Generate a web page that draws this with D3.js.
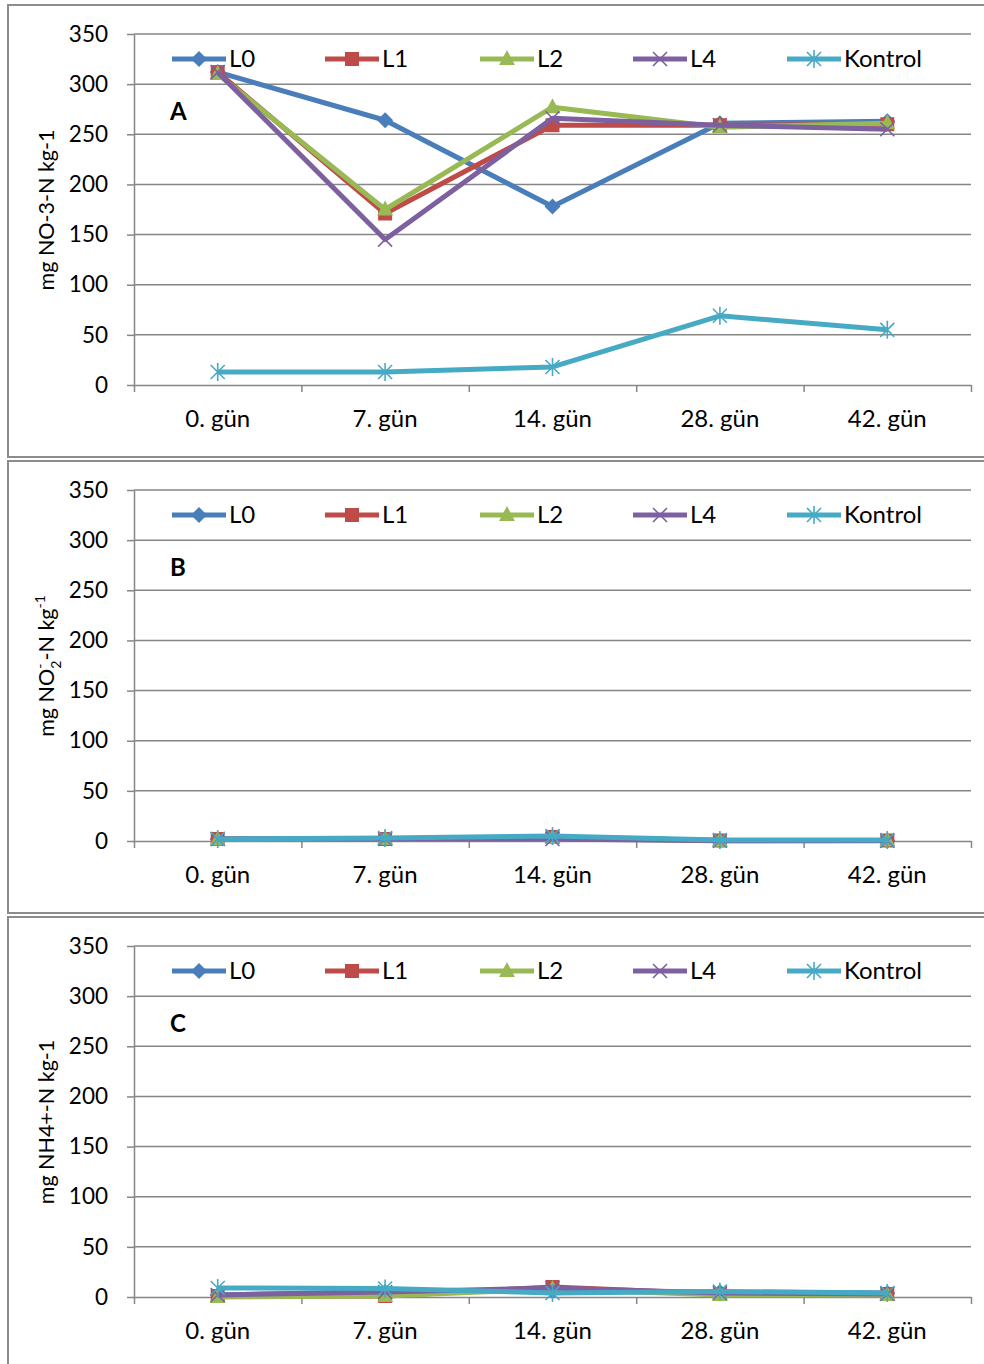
<!DOCTYPE html>
<html lang="tr">
<head>
<meta charset="UTF-8">
<title>Azot formlari</title>
<script src="https://cdn.jsdelivr.net/npm/d3@7"></script>
<style>
    body { margin: 0; background: #fff; }
    svg { display: block; font-family: Lato, "Open Sans", sans-serif; }
</style>
</head>
<body>
<svg id="chart" width="984" height="1364"></svg>
<script>
// categories
var days = ["0. gün", "7. gün", "14. gün", "28. gün", "42. gün"];
var seriesNames = ["L0", "L1", "L2", "L4", "Kontrol"];
var yTicks = [0, 50, 100, 150, 200, 250, 300, 350];

// A: nitrate
var nitrateL0 = [312, 264, 178, 261, 263];
var nitrateL1 = [312, 171, 259, 259, 260];
var nitrateL2 = [310, 175, 277, 257, 261];
var nitrateL4 = [312, 145, 266, 259, 255];
var nitrateKontrol = [13, 13, 18, 69, 55];

// B: nitrite
var nitriteL0 = [2, 2, 4, 0.5, 0.5];
var nitriteL1 = [2, 2, 4, 0.5, 0.5];
var nitriteL2 = [1.5, 2, 3, 0.3, 0.5];
var nitriteL4 = [2, 2, 2, 0.3, 0.3];
var nitriteKontrol = [2, 3, 5, 1, 1];

// C: ammonium
var ammoniumL0 = [2, 5, 6, 5, 4];
var ammoniumL1 = [1, 1, 10, 3, 3];
var ammoniumL2 = [0, 1, 8, 2, 2];
var ammoniumL4 = [2, 5, 9, 4, 3];
var ammoniumKontrol = [9, 8.5, 4, 5.5, 4];

var colors = ["#4a7ebb", "#be4b48", "#98b954", "#7d60a0", "#46aac5"];
var markerTypes = ["diamond", "square", "triangle", "x", "star"];

var svg = d3.select("#chart");

var panelH = 456;
var plot = {left: 134, right: 971, top: 30, height: 351};

var x = d3.scaleBand().domain(days).range([plot.left, plot.right]);
var xb = d3.scaleLinear().domain([0, days.length]).range([plot.left, plot.right]);
var y = d3.scaleLinear().domain([0, 350]).range([plot.top + plot.height, plot.top]);

function drawMarker(g, type, color) {
    if (type == "diamond") {
        g.append("path").attr("d", "M0,-8L8,0L0,8L-8,0Z").attr("fill", color);
    } else if (type == "square") {
        g.append("rect").attr("x", -7).attr("y", -7).attr("width", 14).attr("height", 14).attr("fill", color);
    } else if (type == "triangle") {
        g.append("path").attr("d", "M0,-9L8,6L-8,6Z").attr("fill", color);
    } else if (type == "x") {
        g.append("path").attr("d", "M-7,-7L7,7M-7,7L7,-7").attr("stroke", color).attr("stroke-width", 1.6);
    } else {
        g.append("path").attr("d", "M-7,-7L7,7M-7,7L7,-7M0,-9L0,9")
            .attr("stroke", color).attr("stroke-width", 1.6);
    }
}

function drawPanel(top, data, letter, titleFn) {
    var g = svg.append("g").attr("transform", "translate(0," + top + ")");

    // panel frame
    g.append("rect")
        .attr("x", 8).attr("y", 1)
        .attr("width", 990).attr("height", panelH - 4)
        .attr("fill", "none").attr("stroke", "#8c8c8c").attr("stroke-width", 2);

    // gridlines
    g.append("g").selectAll("line")
        .data(yTicks.filter(function(d) { return d > 0; }))
        .enter().append("line")
        .attr("x1", plot.left).attr("x2", plot.right)
        .attr("y1", function(d) { return y(d); })
        .attr("y2", function(d) { return y(d); })
        .attr("stroke", "#868686").attr("stroke-width", 1.5);

    // y axis
    var yAxis = g.append("g")
        .attr("transform", "translate(" + plot.left + ",0)")
        .call(d3.axisLeft(y).tickValues(yTicks).tickSize(7).tickPadding(19).tickSizeOuter(0));
    yAxis.select(".domain").attr("stroke", "#868686").attr("stroke-width", 1.5);
    yAxis.selectAll(".tick line").attr("stroke", "#868686").attr("stroke-width", 1.5);
    yAxis.selectAll("text").attr("font-size", 22.5).attr("fill", "#000").attr("font-family", "Lato");

    // x axis: ticks at category boundaries
    var xAxis = g.append("g")
        .attr("transform", "translate(0," + y(0) + ")")
        .call(d3.axisBottom(xb).ticks(days.length).tickSize(7).tickFormat("").tickSizeOuter(0));
    xAxis.select(".domain").attr("stroke", "#868686").attr("stroke-width", 1.5);
    xAxis.selectAll(".tick line").attr("stroke", "#868686").attr("stroke-width", 1.5);

    var xLabels = g.append("g")
        .attr("transform", "translate(0," + y(0) + ")")
        .call(d3.axisBottom(x).tickSize(0).tickPadding(25));
    xLabels.select(".domain").remove();
    xLabels.selectAll("text").attr("font-size", 24).attr("fill", "#000").attr("font-family", "Lato");

    // y title
    var title = g.append("text")
        .attr("transform", "translate(54," + (plot.top + 176) + ") rotate(-90)")
        .attr("text-anchor", "middle")
        .attr("font-size", 21.5)
        .attr("font-family", "Lato");
    titleFn(title);

    // lines and markers
    var line = d3.line()
        .x(function(d, i) { return x(days[i]) + x.bandwidth() / 2; })
        .y(function(d) { return y(d); });

    data.forEach(function(vals, k) {
        g.append("path")
            .attr("d", line(vals))
            .attr("fill", "none")
            .attr("stroke", colors[k])
            .attr("stroke-width", 5)
            .attr("stroke-linejoin", "round");
        vals.forEach(function(v, i) {
            var m = g.append("g")
                .attr("transform", "translate(" + (x(days[i]) + x.bandwidth() / 2) + "," + y(v) + ")");
            drawMarker(m, markerTypes[k], colors[k]);
        });
    });

    // legend
    var legX = [172, 325, 480, 633, 787];
    seriesNames.forEach(function(name, k) {
        var lg = g.append("g").attr("transform", "translate(" + legX[k] + "," + (plot.top + 25) + ")");
        lg.append("line").attr("x1", 0).attr("x2", 54)
            .attr("stroke", colors[k]).attr("stroke-width", 5);
        drawMarker(lg.append("g").attr("transform", "translate(27,0)"), markerTypes[k], colors[k]);
        lg.append("text").attr("x", 57).attr("dy", "0.35em")
            .attr("font-size", 24).attr("font-family", "Lato").text(name);
    });

    // panel letter
    g.append("text")
        .attr("x", 170).attr("y", plot.top + 86)
        .attr("font-size", 24).attr("font-weight", "bold")
        .attr("font-family", "Lato")
        .text(letter);
}

drawPanel(4, [nitrateL0, nitrateL1, nitrateL2, nitrateL4, nitrateKontrol], "A", function(t) {
    t.text("mg NO-3-N kg-1");
});

drawPanel(460, [nitriteL0, nitriteL1, nitriteL2, nitriteL4, nitriteKontrol], "B", function(t) {
    t.append("tspan").text("mg NO");
    t.append("tspan").attr("font-size", 14).attr("dy", -9).text("-");
    t.append("tspan").attr("font-size", 14).attr("dx", -5).attr("dy", 16).text("2");
    t.append("tspan").attr("dy", -7).text("-N kg");
    t.append("tspan").attr("font-size", 14).attr("dy", -9).text("-1");
});

drawPanel(916, [ammoniumL0, ammoniumL1, ammoniumL2, ammoniumL4, ammoniumKontrol], "C", function(t) {
    t.text("mg NH4+-N kg-1");
});
</script>
</body>
</html>
